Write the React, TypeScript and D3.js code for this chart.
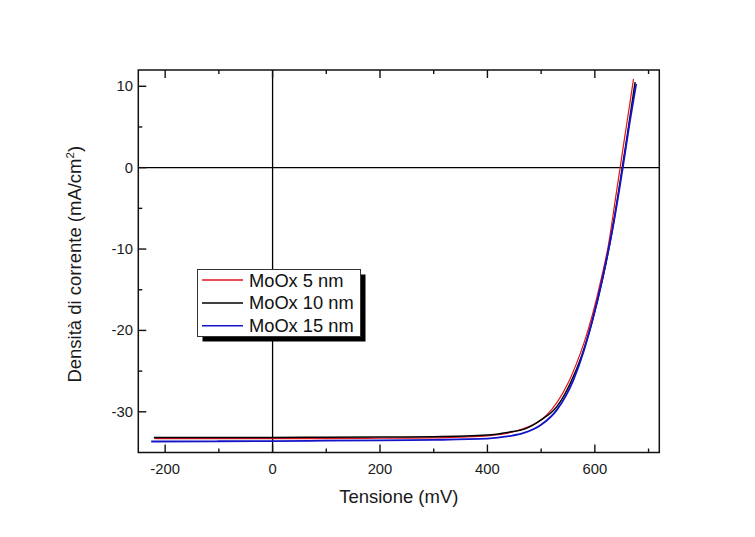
import React from "react";
import * as d3 from "d3";

const seriesNames = ["MoOx 5 nm", "MoOx 10 nm", "MoOx 15 nm"];
const seriesColors = ["#e3121b", "#000000", "#1414c8"];
const seriesWidths = [1.2, 1.5, 1.8];

const redV = [-220, -100, 0, 100, 200, 300, 350, 400, 440, 470, 490, 510, 530, 550, 565, 580, 595, 610, 625, 640, 655, 665, 672];
const redJ = [-33.3, -33.3, -33.3, -33.3, -33.25, -33.2, -33.1, -32.95, -32.6, -32.0, -31.4, -30.4, -28.8, -26.5, -24.2, -21.5, -18.2, -14.2, -9.6, -3.1, 3.5, 7.8, 10.9];

const blackV = [-221, -100, 0, 100, 200, 300, 400, 440, 470, 500, 530, 555, 575, 595, 615, 630, 645, 651, 660, 675];
const blackJ = [-33.15, -33.15, -33.15, -33.12, -33.1, -33.05, -32.85, -32.5, -32.1, -31.0, -29.3, -26.4, -23.2, -18.9, -13.5, -8.6, -2.6, 0, 3.8, 10.5];

const blueV = [-226, -100, 0, 100, 200, 300, 400, 440, 468, 500, 530, 560, 580, 600, 620, 635, 652, 665, 677];
const blueJ = [-33.65, -33.62, -33.6, -33.55, -33.5, -33.45, -33.3, -33.0, -32.6, -31.6, -29.7, -26.1, -22.4, -17.6, -11.8, -6.8, 0, 5.6, 10.3];

const xMajor = [-200, 0, 200, 400, 600];
const xMinor = [-100, 100, 300, 500, 700];
const yMajor = [-30, -20, -10, 0, 10];
const yMinor = [-25, -15, -5, 5];

const xTitle = "Tensione (mV)";

export default function App() {
  const W = 755, H = 537;
  const L = 138.3, R = 659.3, T = 70, B = 452.5;
  const x = d3.scaleLinear().domain([-250, 720]).range([L, R]);
  const y = d3.scaleLinear().domain([-35, 12]).range([B, T]);
  const line = d3.line<[number, number]>().x(d => x(d[0])).y(d => y(d[1])).curve(d3.curveMonotoneX);
  const data: [number, number][][] = [
    redV.map((v, i) => [v, redJ[i]]),
    blackV.map((v, i) => [v, blackJ[i]]),
    blueV.map((v, i) => [v, blueJ[i]]),
  ];
  const font = "Liberation Sans, Arial, sans-serif";
  const majorLen = 8, minorLen = 4;
  const lg = { x: 197.5, y: 269.5, w: 163, h: 67 };
  return (
    <div style={{ position: "absolute", left: 0, top: 0 }}>
      <svg width={W} height={H} style={{ display: "block", background: "#fff" }} fontFamily={font}>
        <line x1={x(0)} x2={x(0)} y1={T} y2={B} stroke="#000" strokeWidth={1.3} />
        <line x1={L} x2={R} y1={y(0)} y2={y(0)} stroke="#000" strokeWidth={1.3} />
        {data.map((d, i) => (
          <path key={i} d={line(d) || ""} fill="none" stroke={seriesColors[i]} strokeWidth={seriesWidths[i]} />
        ))}
        <rect x={L} y={T} width={R - L} height={B - T} fill="none" stroke="#111" strokeWidth={1.5} />
        {xMajor.map(v => (
          <g key={"xM" + v}>
            <line x1={x(v)} x2={x(v)} y1={B} y2={B - majorLen} stroke="#111" strokeWidth={1.4} />
            <line x1={x(v)} x2={x(v)} y1={T} y2={T + majorLen} stroke="#111" strokeWidth={1.4} />
            <text x={x(v)} y={473.5} textAnchor="middle" fontSize={14.8} fill="#1a1a1a">{v}</text>
          </g>
        ))}
        {xMinor.map(v => (
          <g key={"xm" + v}>
            <line x1={x(v)} x2={x(v)} y1={B} y2={B - minorLen} stroke="#111" strokeWidth={1.4} />
            <line x1={x(v)} x2={x(v)} y1={T} y2={T + minorLen} stroke="#111" strokeWidth={1.4} />
          </g>
        ))}
        {yMajor.map(v => (
          <g key={"yM" + v}>
            <line x1={L} x2={L + majorLen} y1={y(v)} y2={y(v)} stroke="#111" strokeWidth={1.4} />
            <text x={133} y={y(v) + 5} textAnchor="end" fontSize={14.8} fill="#1a1a1a">{v}</text>
          </g>
        ))}
        {yMinor.map(v => (
          <line key={"ym" + v} x1={L} x2={L + minorLen} y1={y(v)} y2={y(v)} stroke="#111" strokeWidth={1.4} />
        ))}
        <text x={(L + R) / 2} y={503} textAnchor="middle" fontSize={18.5} fill="#1a1a1a">{xTitle}</text>
        <text transform={`translate(81,${(T + B) / 2 + 3}) rotate(-90)`} textAnchor="middle" fontSize={18.5} fill="#1a1a1a">
          Densità di corrente (mA/cm<tspan dy={-7} fontSize={11.5}>2</tspan><tspan dy={7}>)</tspan>
        </text>
        <rect x={lg.x + 5} y={lg.y + 5} width={lg.w} height={lg.h} fill="#000" />
        <rect x={lg.x} y={lg.y} width={lg.w} height={lg.h} fill="#fff" stroke="#333" strokeWidth={1} />
        {seriesNames.map((n, i) => (
          <g key={n}>
            <line x1={202} x2={243} y1={280 + i * 22.9} y2={280 + i * 22.9} stroke={seriesColors[i]} strokeWidth={1.5} />
            <text x={249} y={280 + i * 22.9 + 6.5} fontSize={18.3} fill="#111">{n}</text>
          </g>
        ))}
      </svg>
    </div>
  );
}
